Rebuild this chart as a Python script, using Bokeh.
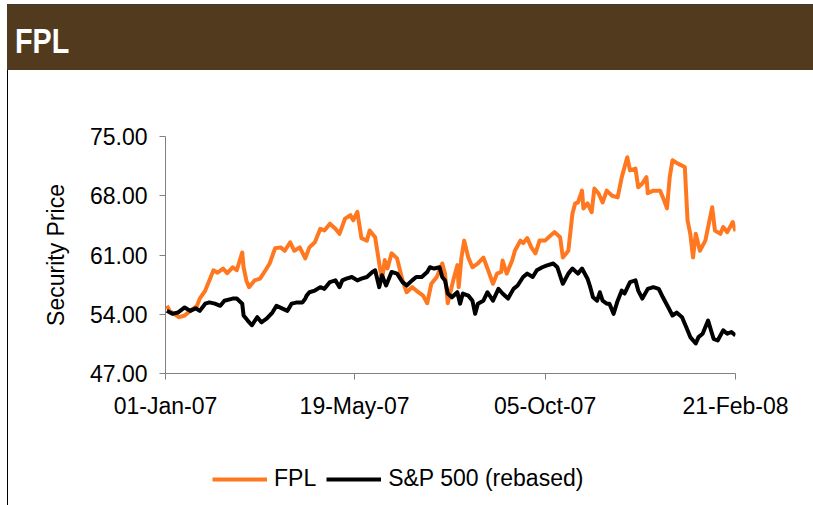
import pandas as pd
from bokeh.plotting import figure
from bokeh.models import (Div, FixedTicker, DatetimeTickFormatter, PrintfTickFormatter,
                          Range1d, Legend, LegendItem, ColumnDataSource)
from bokeh.layouts import column
from bokeh.embed import file_html
from bokeh.resources import INLINE

title_text = "FPL"
y_label = "Security Price"
fpl_name = "FPL"
spx_name = "S&P 500 (rebased)"

y_ticks = [47.0, 54.0, 61.0, 68.0, 75.0]
x_tick_dates = ["2007-01-01", "2007-05-19", "2007-10-05", "2008-02-21"]

fpl_dates = ["2007-01-02","2007-01-04","2007-01-11","2007-01-15","2007-01-19","2007-01-24","2007-01-26","2007-01-30","2007-02-02","2007-02-05",
             "2007-02-08","2007-02-12","2007-02-15","2007-02-19","2007-02-22","2007-02-26","2007-02-27","2007-03-01","2007-03-03","2007-03-07",
             "2007-03-11","2007-03-15","2007-03-18","2007-03-22","2007-03-26","2007-03-29","2007-04-02","2007-04-05","2007-04-09","2007-04-13",
             "2007-04-16","2007-04-20","2007-04-24","2007-04-27","2007-05-01","2007-05-05","2007-05-08","2007-05-12","2007-05-16","2007-05-18",
             "2007-05-21","2007-05-24","2007-05-28","2007-05-30","2007-06-03","2007-06-06","2007-06-08","2007-06-10","2007-06-12","2007-06-15",
             "2007-06-19","2007-06-23","2007-06-26","2007-06-30","2007-07-03","2007-07-08","2007-07-11","2007-07-14","2007-07-18","2007-07-22",
             "2007-07-24","2007-07-26","2007-07-30","2007-08-02","2007-08-03","2007-08-05","2007-08-07","2007-08-10","2007-08-13","2007-08-17",
             "2007-08-21","2007-08-24","2007-08-28","2007-08-31","2007-09-03","2007-09-04","2007-09-07","2007-09-11","2007-09-13","2007-09-17",
             "2007-09-19","2007-09-22","2007-09-25","2007-09-28","2007-10-01","2007-10-05","2007-10-09","2007-10-12","2007-10-16","2007-10-18",
             "2007-10-22","2007-10-25","2007-10-27","2007-10-29","2007-11-01","2007-11-02","2007-11-05","2007-11-08","2007-11-10","2007-11-13",
             "2007-11-16","2007-11-19","2007-11-23","2007-11-27","2007-11-30","2007-12-04","2007-12-06","2007-12-10","2007-12-12","2007-12-15",
             "2007-12-18","2007-12-19","2007-12-23","2007-12-28","2007-12-31","2008-01-02","2008-01-04","2008-01-06","2008-01-10","2008-01-15",
             "2008-01-17","2008-01-19","2008-01-21","2008-01-23","2008-01-26","2008-01-30","2008-02-01","2008-02-04","2008-02-06","2008-02-10",
             "2008-02-12","2008-02-15","2008-02-19","2008-02-21"]
fpl_values = [55.0, 54.4, 53.65, 53.85, 54.4, 55.0, 55.85, 56.8, 58.0, 59.2,
              58.9, 59.4, 58.85, 59.55, 59.2, 61.3, 59.55, 58.0, 57.2, 58.0,
              58.2, 59.2, 60.0, 61.8, 61.9, 61.5, 62.5, 61.5, 61.9, 60.6,
              61.9, 62.5, 64.1, 63.9, 64.7, 64.1, 63.5, 65.3, 65.7, 65.1,
              66.1, 63.0, 62.7, 63.9, 63.1, 60.0, 58.0, 60.4, 59.4, 61.2,
              60.6, 58.0, 56.6, 57.2, 56.8, 56.2, 55.3, 57.6, 58.4, 60.0,
              58.8, 55.3, 58.0, 59.8, 57.2, 60.7, 62.7, 60.7, 59.55, 60.0,
              60.7, 59.4, 57.6, 58.8, 59.0, 60.35, 58.8, 60.35, 61.5, 62.7,
              62.4, 63.0, 61.9, 61.2, 62.7, 62.7, 63.3, 63.7, 63.1, 60.7,
              61.5, 65.9, 67.1, 67.2, 68.6, 66.5, 67.1, 66.05, 68.85, 68.3,
              67.2, 68.6, 68.0, 67.8, 70.2, 72.55, 71.0, 71.2, 69.0, 69.45,
              70.2, 68.3, 68.6, 68.6, 67.4, 66.5, 70.2, 72.2, 71.8, 71.4,
              65.1, 63.5, 60.7, 63.5, 61.5, 62.7, 64.3, 66.65, 63.9, 63.5,
              64.3, 63.7, 64.9, 63.8]

spx_dates = ["2007-01-02","2007-01-06","2007-01-10","2007-01-15","2007-01-19","2007-01-23","2007-01-26","2007-01-30","2007-02-02","2007-02-06",
             "2007-02-10","2007-02-13","2007-02-19","2007-02-22","2007-02-26","2007-02-27","2007-03-02","2007-03-05","2007-03-09","2007-03-12",
             "2007-03-16","2007-03-20","2007-03-23","2007-03-27","2007-03-31","2007-04-03","2007-04-07","2007-04-11","2007-04-13","2007-04-14",
             "2007-04-16","2007-04-20","2007-04-24","2007-04-27","2007-05-01","2007-05-05","2007-05-08","2007-05-10","2007-05-13","2007-05-17",
             "2007-05-21","2007-05-24","2007-05-28","2007-06-01","2007-06-03","2007-06-06","2007-06-08","2007-06-11","2007-06-15","2007-06-19",
             "2007-06-23","2007-06-26","2007-06-30","2007-07-03","2007-07-07","2007-07-11","2007-07-13","2007-07-16","2007-07-20","2007-07-22",
             "2007-07-24","2007-07-26","2007-07-29","2007-08-02","2007-08-04","2007-08-06","2007-08-10","2007-08-13","2007-08-15","2007-08-17",
             "2007-08-21","2007-08-24","2007-08-28","2007-09-01","2007-09-04","2007-09-08","2007-09-12","2007-09-15","2007-09-19","2007-09-22",
             "2007-09-26","2007-09-29","2007-10-03","2007-10-06","2007-10-11","2007-10-14","2007-10-18","2007-10-22","2007-10-25","2007-10-29",
             "2007-11-01","2007-11-05","2007-11-07","2007-11-09","2007-11-12","2007-11-14","2007-11-16","2007-11-19","2007-11-21","2007-11-24",
             "2007-11-27","2007-11-30","2007-12-02","2007-12-06","2007-12-10","2007-12-12","2007-12-15","2007-12-19","2007-12-23","2007-12-27",
             "2007-12-30","2008-01-03","2008-01-06","2008-01-09","2008-01-13","2008-01-17","2008-01-19","2008-01-23","2008-01-25","2008-01-28",
             "2008-02-01","2008-02-05","2008-02-08","2008-02-12","2008-02-15","2008-02-18","2008-02-21"]
spx_values = [54.4, 54.05, 54.2, 54.8, 54.4, 54.7, 54.4, 55.25, 55.4, 55.25,
              55.0, 55.6, 55.85, 55.85, 55.25, 53.85, 53.25, 52.7, 53.65, 53.05,
              53.5, 54.2, 55.0, 54.7, 54.4, 55.25, 55.4, 55.4, 55.85, 56.2,
              56.6, 56.8, 57.2, 57.0, 57.8, 58.0, 57.2, 58.0, 58.2, 58.4,
              58.0, 58.2, 58.4, 59.0, 59.2, 57.2, 58.6, 57.4, 59.0, 58.8,
              57.8, 57.4, 58.0, 58.4, 58.4, 59.0, 59.55, 59.4, 59.55, 58.4,
              58.0, 56.45, 56.0, 56.6, 55.25, 56.45, 56.2, 55.6, 54.05, 55.25,
              55.6, 56.6, 55.6, 57.0, 56.45, 55.85, 57.0, 57.4, 58.4, 58.8,
              58.4, 59.2, 59.55, 59.75, 60.0, 59.55, 57.6, 58.8, 59.4, 58.8,
              59.4, 58.2, 57.2, 56.0, 55.6, 56.6, 55.6, 55.25, 55.25, 54.05,
              55.6, 56.8, 56.45, 57.8, 58.0, 56.8, 55.85, 57.0, 57.2, 57.0,
              56.0, 54.8, 53.85, 54.2, 53.65, 52.1, 51.3, 50.55, 51.3, 51.7,
              53.25, 51.1, 50.9, 52.1, 51.7, 51.9, 51.5]

FONT = "Liberation Sans"
ORANGE = "#FF781F"
BROWN = "#523A1E"
FS = "23px"

fpl_src = ColumnDataSource(dict(x=pd.to_datetime(fpl_dates), y=fpl_values))
spx_src = ColumnDataSource(dict(x=pd.to_datetime(spx_dates), y=spx_values))

# ---- title band ----
title_div = Div(
    text=('<div style="color:white;font-family:\'Liberation Sans\',Arial,sans-serif;font-weight:bold;'
          'font-size:35px;line-height:71px;padding-left:8px;white-space:nowrap;">'
          '<span style="display:inline-block;transform:scaleX(0.82);transform-origin:left center;">'
          + title_text + '</span></div>'),
    width=806, height=66, margin=(4, 0, 0, 7),
    styles={"background-color": BROWN, "border-top": "1px solid #3a3a3a", "box-sizing": "border-box"})

# ---- main chart ----
p = figure(width=805, height=385, output_backend="svg", toolbar_location=None,
           x_axis_type="datetime",
           x_range=Range1d(pd.Timestamp(x_tick_dates[0]), pd.Timestamp(x_tick_dates[-1])),
           y_range=Range1d(y_ticks[0], y_ticks[-1]),
           min_border_left=157, min_border_right=78, min_border_top=66, min_border_bottom=82,
           margin=(0, 0, 0, 7), styles={"border-left": "1px solid black"})
p.outline_line_color = None
p.xgrid.visible = False
p.ygrid.visible = False

r1 = p.line("x", "y", source=fpl_src, line_color=ORANGE, line_width=4, line_join="round")
r2 = p.line("x", "y", source=spx_src, line_color="black", line_width=4, line_join="round")

for ax in (p.xaxis[0], p.yaxis[0]):
    ax.axis_line_color = "#808080"
    ax.major_tick_line_color = "#808080"
    ax.major_tick_in = 0
    ax.major_tick_out = 6
    ax.minor_tick_line_color = None
    ax.major_label_text_font = FONT
    ax.major_label_text_font_size = FS
    ax.major_label_text_color = "black"

p.yaxis[0].ticker = FixedTicker(ticks=y_ticks)
p.yaxis[0].formatter = PrintfTickFormatter(format="%.2f")
p.yaxis[0].major_label_standoff = 12
p.yaxis[0].axis_label = y_label
p.yaxis[0].axis_label_text_font = FONT
p.yaxis[0].axis_label_text_font_size = FS
p.yaxis[0].axis_label_text_font_style = "normal"
p.yaxis[0].axis_label_text_color = "black"
p.yaxis[0].axis_label_standoff = 18

x_ticks_ms = [pd.Timestamp(d).value // 10**6 for d in x_tick_dates]
p.xaxis[0].ticker = FixedTicker(ticks=x_ticks_ms)
fmt = "%d-%b-%y"
p.xaxis[0].formatter = DatetimeTickFormatter(milliseconds=fmt, seconds=fmt, minsec=fmt, minutes=fmt,
                                             hourmin=fmt, hours=fmt, days=fmt, months=fmt, years=fmt)
p.xaxis[0].major_label_standoff = 13

# ---- legend strip (its frame is aligned with the chart frame by the column layout) ----
lg = figure(width=805, height=50, output_backend="svg", toolbar_location=None,
            x_range=Range1d(0, 1), y_range=Range1d(0, 1),
            x_axis_location=None, y_axis_location=None,
            min_border=0, margin=(0, 0, 0, 7), styles={"border-left": "1px solid black"})
lg.outline_line_color = None
lg.xgrid.visible = False
lg.ygrid.visible = False
# legend-only renderers: their points lie outside the visible range
l1 = lg.line(x=[2, 3], y=[2, 3], line_color=ORANGE, line_width=4)
l2 = lg.line(x=[2, 3], y=[2, 3], line_color="black", line_width=4)
legend = Legend(items=[LegendItem(label=fpl_name, renderers=[l1]),
                       LegendItem(label=spx_name, renderers=[l2])],
                location=(47, 13), orientation="horizontal",
                glyph_width=55, glyph_height=20, label_standoff=7, spacing=10,
                padding=0, margin=0, border_line_alpha=0, background_fill_alpha=0,
                label_text_font=FONT, label_text_font_size=FS, label_text_color="black")
lg.add_layout(legend)

layout = column(title_div, p, lg, spacing=0)
open("out.html", "w").write(file_html(layout, INLINE))
